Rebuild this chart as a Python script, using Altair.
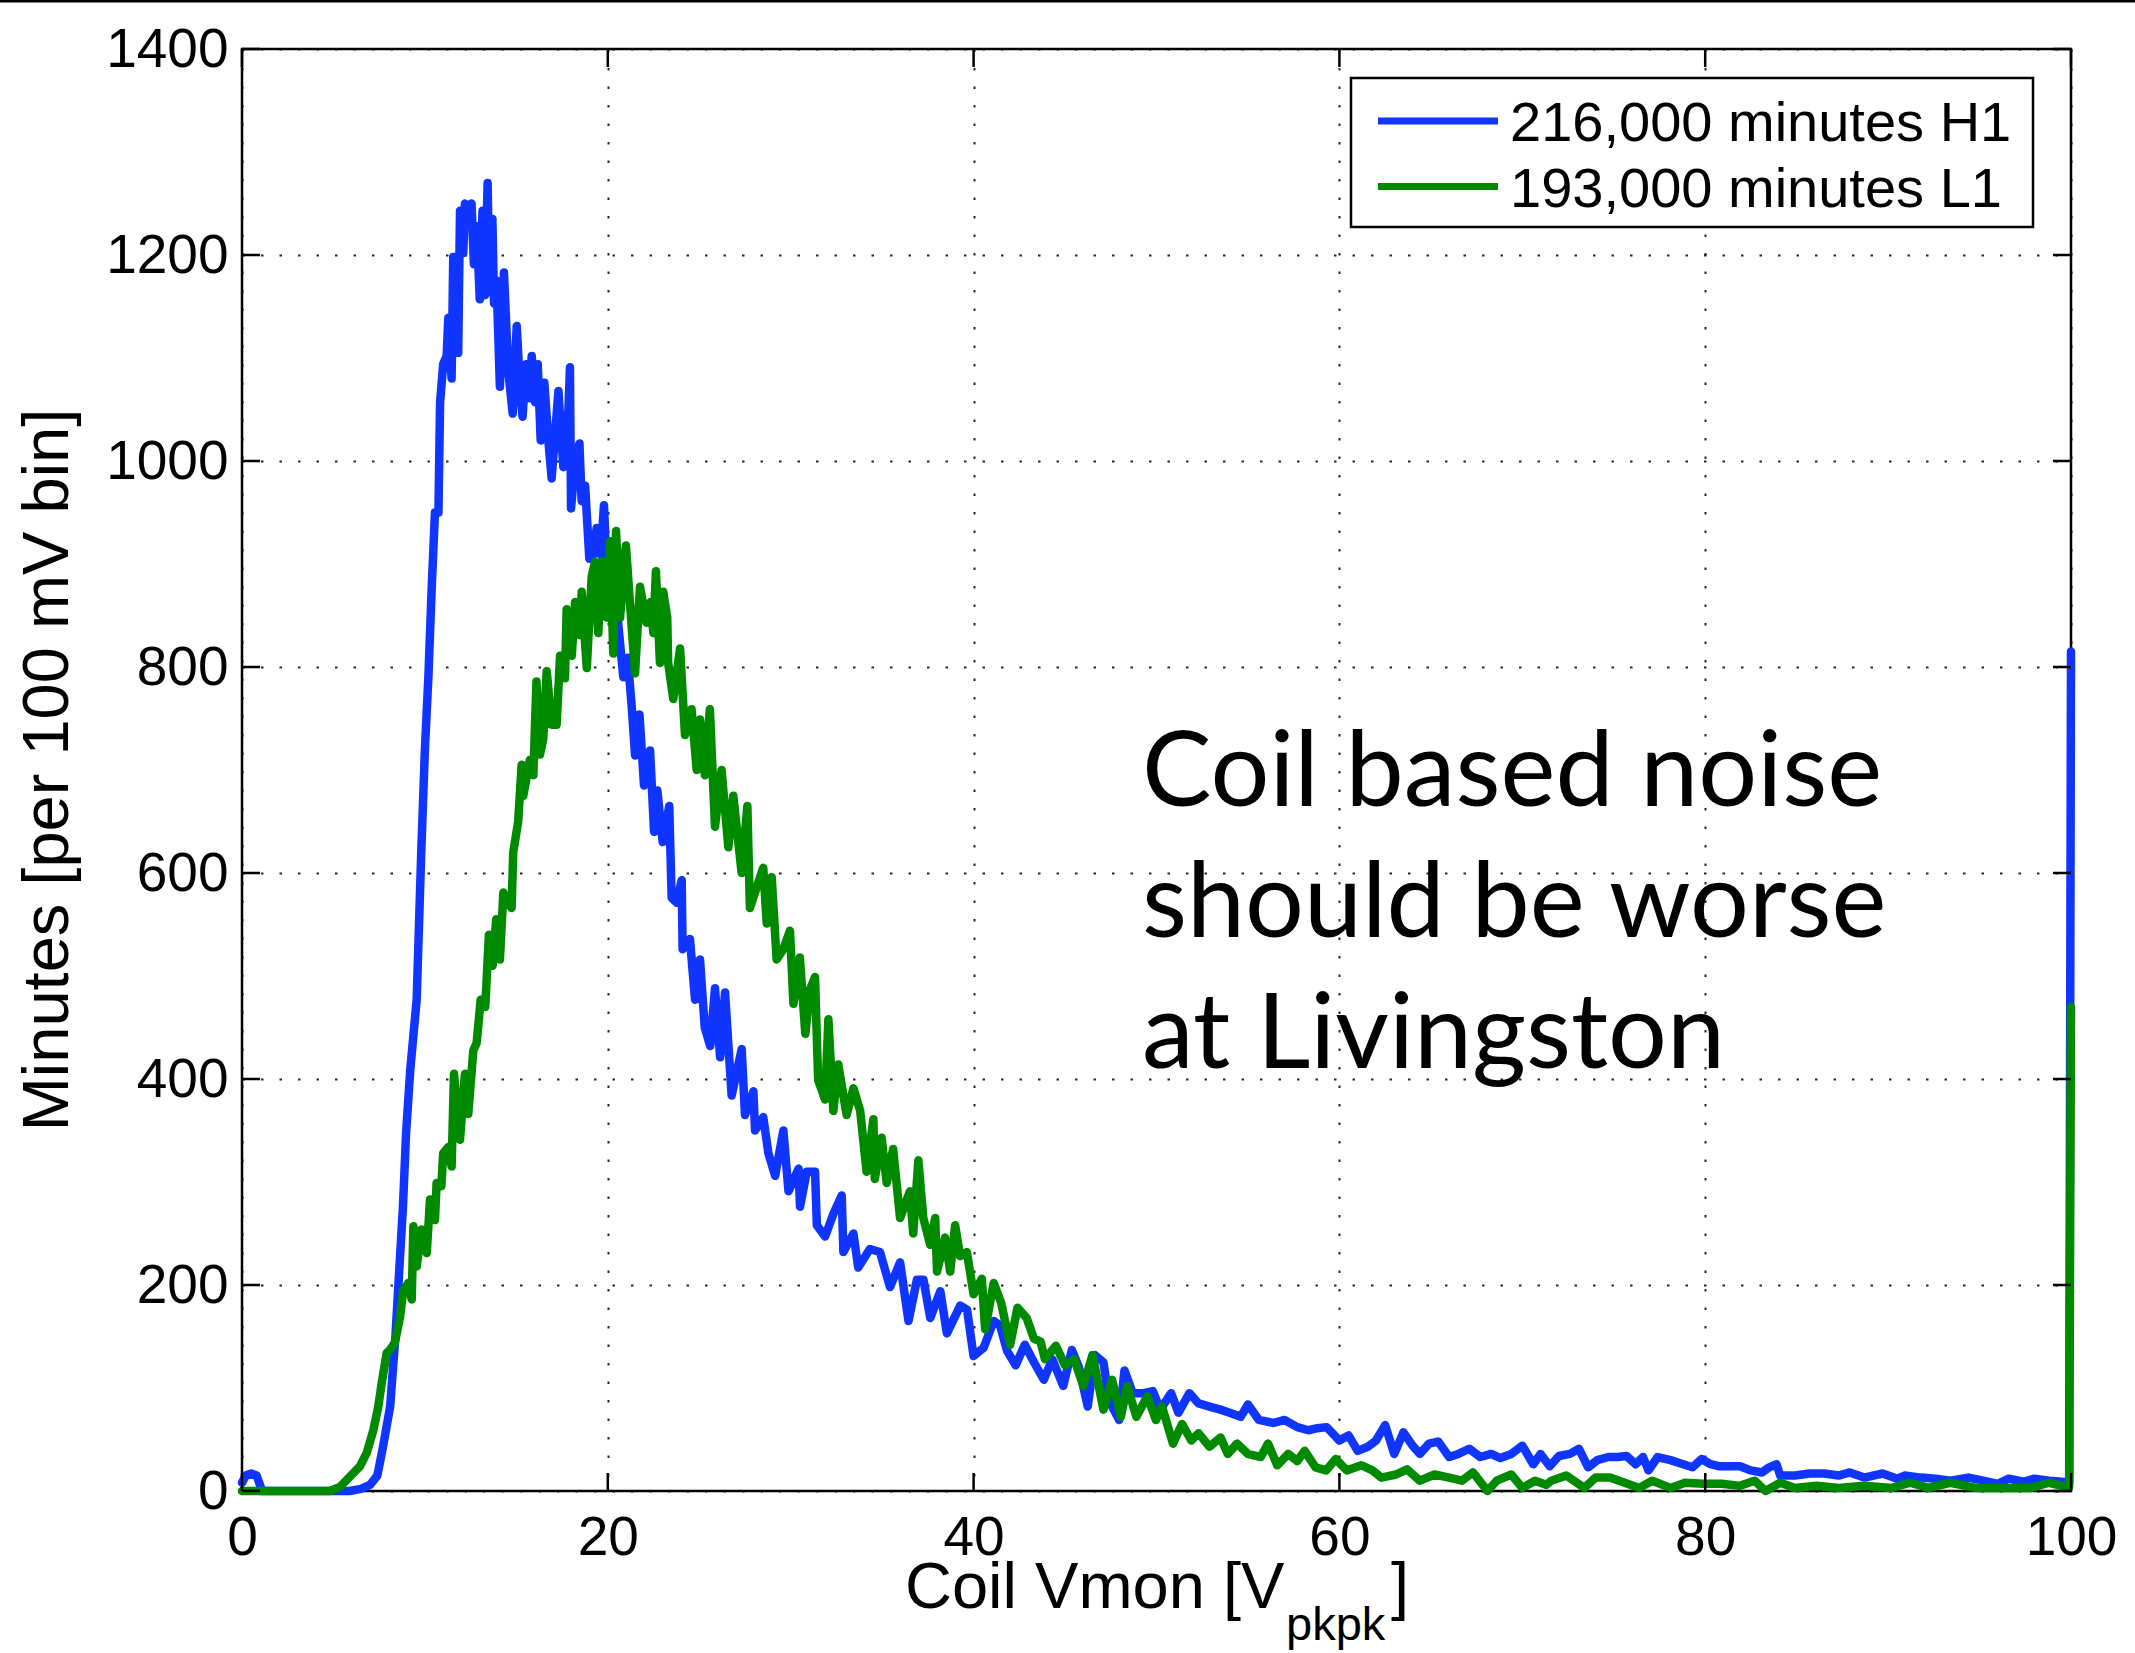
import altair as alt
import pandas as pd

# ---- data (volts, minutes per 100 mV bin) ----
h1_points = [
    (0.0, 8), (0.2, 15), (0.5, 17), (0.8, 15), (1.1, 0), (2.0, 0), (4.0, 0), (5.9, 0),
    (6.5, 2), (7.0, 6), (7.4, 15), (7.7, 42), (8.1, 82), (8.4, 153), (8.55, 200), (8.8, 276),
    (8.97, 347), (9.2, 409), (9.55, 477), (9.8, 620), (10.0, 720), (10.19, 790), (10.37, 876),
    (10.55, 950), (10.74, 950), (10.83, 1057), (11.0, 1094), (11.19, 1102), (11.28, 1139),
    (11.46, 1080), (11.55, 1198), (11.73, 1198), (11.82, 1105), (11.92, 1243), (12.1, 1202),
    (12.19, 1250), (12.37, 1246), (12.55, 1250), (12.68, 1191), (12.83, 1228), (13.0, 1157),
    (13.15, 1243), (13.28, 1161), (13.43, 1270), (13.52, 1164), (13.69, 1235), (13.78, 1153),
    (13.92, 1175), (14.1, 1072), (14.32, 1183), (14.56, 1087), (14.8, 1046), (15.02, 1131),
    (15.2, 1072), (15.34, 1043), (15.53, 1094), (15.71, 1061), (15.84, 1102), (16.02, 1057),
    (16.17, 1094), (16.33, 1020), (16.53, 1076), (16.75, 1020), (16.93, 983), (17.3, 1068),
    (17.57, 994), (17.79, 1020), (17.93, 1091), (17.99, 954), (18.21, 998), (18.45, 1017),
    (18.57, 961), (18.76, 976), (18.99, 905), (19.21, 909), (19.39, 935), (19.61, 909),
    (19.79, 957), (19.94, 894), (20.3, 902), (20.58, 840), (20.85, 790), (21.09, 809),
    (21.31, 761), (21.49, 714), (21.73, 754), (21.98, 685), (22.31, 719), (22.53, 640),
    (22.71, 680), (23.0, 630), (23.36, 665), (23.49, 576), (23.77, 571), (24.04, 593),
    (24.09, 526), (24.49, 536), (24.77, 477), (25.04, 516), (25.3, 450), (25.6, 432),
    (25.86, 488), (26.14, 421), (26.41, 484), (26.77, 384), (27.32, 429), (27.5, 365),
    (27.96, 388), (28.05, 350), (28.5, 363), (28.78, 328), (29.15, 306), (29.6, 350),
    (29.88, 291), (30.43, 313), (30.51, 276), (30.88, 310), (31.33, 310), (31.43, 258),
    (31.88, 247), (32.33, 269), (32.79, 287), (32.88, 232), (33.43, 250), (33.69, 217),
    (34.33, 235), (34.88, 232), (35.43, 198), (35.98, 222), (36.44, 165), (36.9, 205),
    (37.26, 205), (37.63, 168), (38.18, 194), (38.54, 153), (39.27, 180), (39.64, 176),
    (40.0, 131), (40.55, 139), (41.1, 165), (41.44, 161), (41.83, 136), (42.3, 122),
    (42.8, 142), (43.3, 125), (43.84, 108), (44.3, 128), (44.9, 102), (45.37, 137),
    (45.76, 120), (46.24, 82), (46.62, 132), (47.1, 125), (47.4, 88), (47.96, 69),
    (48.25, 117), (48.7, 95), (49.3, 95), (49.8, 97), (50.2, 79), (50.8, 95), (51.2, 76),
    (51.8, 95), (52.3, 85), (52.9, 82), (53.5, 79), (54.0, 76), (54.6, 72), (55.0, 84),
    (55.6, 69), (56.4, 66), (57.0, 69), (57.7, 62), (58.3, 59), (58.8, 61), (59.3, 62),
    (60.0, 49), (60.5, 54), (61.0, 39), (61.56, 43), (62.0, 49), (62.5, 64), (63.0, 36),
    (63.5, 57), (64.0, 44), (64.4, 36), (64.9, 46), (65.4, 48), (66.0, 33), (66.5, 36),
    (67.1, 41), (67.7, 33), (68.3, 36), (68.8, 32), (69.4, 36), (70.0, 44), (70.6, 26),
    (71.0, 36), (71.5, 24), (72.0, 34), (72.6, 36), (73.1, 41), (73.6, 23), (74.1, 30),
    (74.7, 33), (75.2, 33), (75.7, 34), (76.2, 26), (76.6, 33), (76.9, 20), (77.4, 33),
    (78.1, 30), (78.8, 26), (79.3, 23), (79.8, 31), (80.3, 26), (80.8, 24), (81.3, 24),
    (81.9, 24), (82.5, 20), (83.1, 18), (83.5, 23), (83.9, 26), (84.1, 15), (84.9, 15),
    (85.7, 17), (86.5, 17), (87.3, 15), (87.9, 18), (88.7, 13), (89.7, 17), (90.5, 12),
    (90.9, 15), (91.8, 13), (92.6, 12), (93.4, 10), (94.4, 13), (95.2, 10), (96.0, 7),
    (96.6, 12), (97.4, 9), (98.0, 12), (98.8, 10), (99.5, 9), (99.9, 8), (100.0, 815),
]

l1_points = [
    (0.0, 0), (2.0, 0), (4.8, 0), (5.36, 4), (5.9, 14), (6.45, 24), (6.82, 37), (7.18, 59),
    (7.45, 82), (7.64, 105), (7.91, 134), (8.09, 137), (8.36, 144), (8.64, 169), (8.82, 195),
    (9.1, 202), (9.28, 186), (9.37, 257), (9.55, 218), (9.82, 254), (10.1, 231), (10.28, 283),
    (10.55, 263), (10.64, 299), (10.9, 296), (11.0, 328), (11.28, 334), (11.46, 315),
    (11.59, 405), (11.92, 341), (12.19, 405), (12.37, 366), (12.65, 428), (12.83, 435),
    (13.05, 477), (13.3, 470), (13.5, 540), (13.7, 510), (13.9, 555), (14.1, 516),
    (14.29, 581), (14.74, 566), (14.83, 620), (15.1, 650), (15.29, 705), (15.38, 675),
    (15.74, 710), (15.93, 695), (16.1, 786), (16.29, 715), (16.47, 730), (16.66, 796),
    (16.93, 744), (17.2, 744), (17.39, 811), (17.66, 789), (17.75, 856), (18.03, 811),
    (18.21, 863), (18.48, 831), (18.57, 873), (18.85, 799), (19.12, 888), (19.3, 902),
    (19.48, 833), (19.67, 903), (19.94, 848), (20.12, 922), (20.3, 813), (20.45, 932),
    (20.67, 848), (20.99, 918), (21.21, 863), (21.49, 794), (21.76, 878), (22.12, 843),
    (22.34, 863), (22.49, 833), (22.63, 893), (22.85, 804), (23.03, 873), (23.25, 848),
    (23.3, 804), (23.58, 769), (23.95, 818), (24.22, 734), (24.58, 759), (24.86, 700),
    (25.04, 749), (25.31, 695), (25.58, 759), (25.86, 645), (26.22, 700), (26.59, 625),
    (26.86, 675), (27.32, 600), (27.63, 665), (27.77, 566), (28.14, 586), (28.5, 605),
    (28.69, 551), (28.96, 596), (29.23, 516), (29.6, 526), (29.96, 544), (30.15, 473),
    (30.5, 518), (30.8, 444), (31.06, 487), (31.33, 499), (31.5, 399), (31.88, 380),
    (32.06, 458), (32.33, 369), (32.6, 414), (33.06, 365), (33.43, 391), (33.8, 369),
    (34.15, 310), (34.52, 361), (34.6, 303), (34.97, 343), (35.25, 299), (35.6, 332),
    (35.98, 265), (36.52, 291), (36.7, 250), (36.98, 321), (37.25, 265), (37.63, 239),
    (37.9, 265), (38.0, 213), (38.44, 246), (38.72, 213), (38.99, 258), (39.26, 228),
    (39.63, 232), (40.0, 191), (40.45, 206), (40.63, 157), (41.1, 202), (41.5, 183),
    (42.0, 142), (42.4, 178), (42.9, 168), (43.3, 148), (43.66, 145), (43.9, 128),
    (44.5, 141), (45.0, 122), (45.5, 128), (46.0, 102), (46.5, 132), (47.1, 79),
    (47.57, 108), (48.05, 72), (48.4, 102), (48.9, 72), (49.5, 92), (49.97, 69), (50.3, 82),
    (50.9, 46), (51.4, 65), (51.9, 49), (52.3, 56), (52.9, 43), (53.5, 52), (53.9, 36),
    (54.4, 46), (55.0, 36), (55.7, 33), (56.1, 46), (56.6, 25), (57.2, 36), (57.7, 29),
    (58.1, 39), (58.7, 23), (59.27, 20), (59.8, 31), (60.4, 20), (61.2, 25), (61.8, 20),
    (62.3, 13), (63.1, 16), (63.7, 21), (64.4, 10), (65.2, 16), (66.0, 13), (66.7, 10),
    (67.3, 18), (68.1, 0), (68.6, 10), (69.4, 16), (70.0, 3), (70.7, 10), (71.3, 6),
    (71.6, 10), (72.4, 15), (73.4, 3), (74.0, 13), (74.8, 13), (75.6, 8), (76.4, 3),
    (77.1, 10), (78.1, 3), (78.9, 8), (79.9, 7), (80.9, 7), (81.9, 5), (82.7, 10), (83.3, 0),
    (84.1, 8), (84.9, 3), (86.1, 5), (87.3, 3), (88.7, 5), (90.2, 3), (91.2, 8), (92.2, 3),
    (93.4, 8), (94.8, 3), (96.2, 3), (97.8, 3), (98.8, 8), (99.5, 5), (99.9, 4), (100.0, 470),
]

series_names = ["216,000 minutes H1", "193,000 minutes L1"]
series_colors = ["#0F35FF", "#008A00"]
x_ticks = [0, 20, 40, 60, 80, 100]
y_ticks = [0, 200, 400, 600, 800, 1000, 1200, 1400]
y_title = "Minutes [per 100 mV bin]"
x_title_main = "Coil Vmon [V"
x_title_sub = "pkpk"
x_title_close = "]"
annotation_lines = ["Coil based noise", "should be worse", "at Livingston"]

# ---- layout ----
W, H = 1829, 1442
TICK = 18
FONT = "Liberation Sans"

df_h1 = pd.DataFrame(h1_points, columns=["volts", "minutes"])
df_h1["series"] = series_names[0]
df_l1 = pd.DataFrame(l1_points, columns=["volts", "minutes"])
df_l1["series"] = series_names[1]

x_scale = alt.Scale(domain=[0, 100], nice=False, zero=False)
y_scale = alt.Scale(domain=[0, 1400], nice=False, zero=False)

x_axis = alt.Axis(values=x_ticks, grid=True, ticks=False, domain=False, format="d",
                  labelPadding=20, labelFlush=False, title=None)
y_axis = alt.Axis(values=y_ticks, grid=True, ticks=False, domain=False, format="d",
                  labelPadding=14, labelFlush=False, title=None)

color = alt.Color(
    "series:N",
    scale=alt.Scale(domain=series_names, range=series_colors),
    legend=None,
)

line_style = dict(strokeWidth=8.5, strokeJoin="round", strokeCap="round")

blue = alt.Chart(df_h1).mark_line(**line_style).encode(
    x=alt.X("volts:Q", scale=x_scale, axis=x_axis),
    y=alt.Y("minutes:Q", scale=y_scale, axis=y_axis),
    color=color,
)
green = alt.Chart(df_l1).mark_line(**line_style).encode(
    x=alt.X("volts:Q", scale=x_scale, axis=x_axis),
    y=alt.Y("minutes:Q", scale=y_scale, axis=y_axis),
    color=color,
)

xt = pd.DataFrame({"t": x_ticks})
yt = pd.DataFrame({"t": y_ticks})
tick_style = dict(color="black", strokeWidth=2.5)
ticks_bottom = alt.Chart(xt).mark_rule(**tick_style).encode(
    x=alt.X("t:Q", scale=x_scale, axis=x_axis), y=alt.value(H - TICK), y2=alt.value(H))
ticks_top = alt.Chart(xt).mark_rule(**tick_style).encode(
    x=alt.X("t:Q", scale=x_scale, axis=x_axis), y=alt.value(0), y2=alt.value(TICK))
ticks_left = alt.Chart(yt).mark_rule(**tick_style).encode(
    y=alt.Y("t:Q", scale=y_scale, axis=y_axis), x=alt.value(0), x2=alt.value(TICK))
ticks_right = alt.Chart(yt).mark_rule(**tick_style).encode(
    y=alt.Y("t:Q", scale=y_scale, axis=y_axis), x=alt.value(W - TICK), x2=alt.value(W))

ytitle = alt.Chart(pd.DataFrame({"t": [y_title]})).mark_text(
    font=FONT, fontSize=65, angle=270, align="center", baseline="alphabetic", color="black"
).encode(x=alt.value(-174), y=alt.value(H / 2), text="t:N")

xt_main = alt.Chart(pd.DataFrame({"t": [x_title_main]})).mark_text(
    font=FONT, fontSize=65, align="left", baseline="alphabetic", color="black"
).encode(x=alt.value(663), y=alt.value(1559), text="t:N")
xt_sub = alt.Chart(pd.DataFrame({"t": [x_title_sub]})).mark_text(
    font=FONT, fontSize=47, align="left", baseline="alphabetic", color="black"
).encode(x=alt.value(1044), y=alt.value(1591), text="t:N")
xt_close = alt.Chart(pd.DataFrame({"t": [x_title_close]})).mark_text(
    font=FONT, fontSize=65, align="left", baseline="alphabetic", color="black"
).encode(x=alt.value(1149), y=alt.value(1559), text="t:N")

annot = alt.Chart(pd.DataFrame({"t": ["\n".join(annotation_lines)]})).mark_text(
    font="Lato", fontSize=104, lineHeight=131, lineBreak="\n", align="left",
    baseline="alphabetic", color="black"
).encode(x=alt.value(900), y=alt.value(757), text="t:N")

# legend box (drawn from the series names and colours)
LX0, LX1, LY0, LY1 = 1109, 1791, 29, 178
ROW_Y = [72, 137.5]
leg_df = pd.DataFrame({"label": series_names, "color": series_colors, "row": ROW_Y})
leg_box = alt.Chart(pd.DataFrame({"t": [0]})).mark_rect(
    fill="white", stroke="black", strokeWidth=2.5
).encode(x=alt.value(LX0), x2=alt.value(LX1), y=alt.value(LY0), y2=alt.value(LY1))
leg_lines = alt.Chart(leg_df).mark_rule(strokeWidth=7).encode(
    x=alt.value(1136), x2=alt.value(1256),
    y=alt.Y("row:Q", scale=alt.Scale(domain=[0, H], range=[0, H]), axis=None),
    color=alt.Color("color:N", scale=None),
)
leg_text = alt.Chart(leg_df).mark_text(
    font=FONT, fontSize=56, align="left", baseline="middle", color="black", dy=3
).encode(
    x=alt.value(1268),
    y=alt.Y("row:Q", scale=alt.Scale(domain=[0, H], range=[0, H]), axis=None),
    text="label:N",
)

top_border = alt.Chart(pd.DataFrame({"t": [0]})).mark_rule(color="black", strokeWidth=3).encode(
    x=alt.value(-242), x2=alt.value(1893), y=alt.value(-48))

lines = alt.layer(blue, green, ticks_bottom, ticks_top, ticks_left, ticks_right)
legend = alt.layer(leg_box, leg_lines, leg_text)

chart = alt.layer(
    lines, ytitle, xt_main, xt_sub, xt_close, annot, legend, top_border,
).resolve_scale(y="independent").properties(
    width=W, height=H,
    autosize=alt.AutoSizeParams(type="none"),
    padding={"left": 242, "top": 49, "right": 64, "bottom": 162},
    background="white",
).configure_view(
    stroke="black", strokeWidth=2.5
).configure_axis(
    labelFontSize=55, labelFont=FONT, labelColor="black", tickSize=0,
    gridDash=[2.5, 16], gridColor="black", gridWidth=2, gridOpacity=0.85,
)

chart.save("out.html", embed_options={"renderer": "svg", "actions": False})
